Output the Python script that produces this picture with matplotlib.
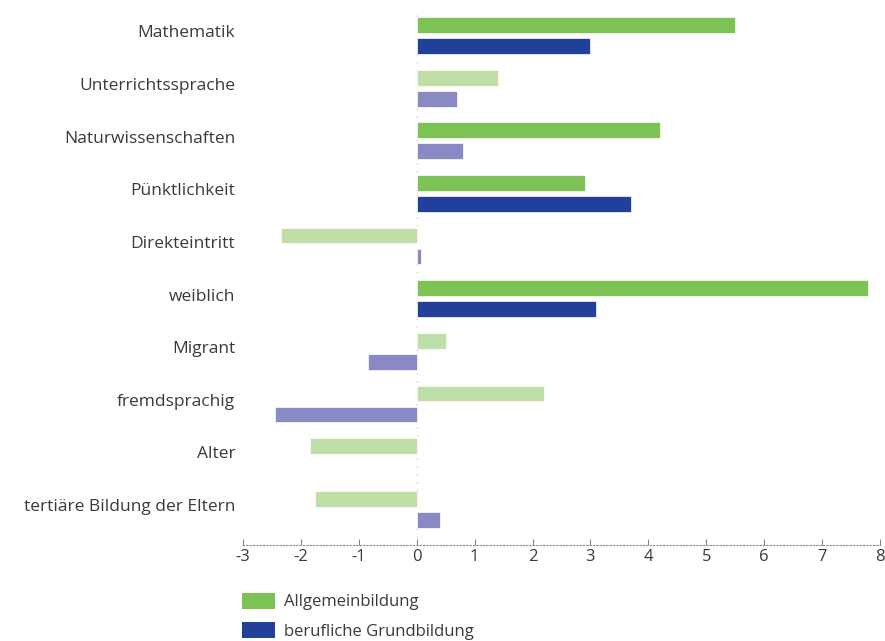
import matplotlib
matplotlib.use("Agg")
import matplotlib.pyplot as plt
import matplotlib.transforms as mtransforms
from matplotlib.patches import Patch

categories = ["Mathematik", "Unterrichtssprache", "Naturwissenschaften", "Pünktlichkeit",
              "Direkteintritt", "weiblich", "Migrant", "fremdsprachig", "Alter",
              "tertiäre Bildung der Eltern"]
allgemein = [5.5, 1.4, 4.2, 2.9, -2.35, 7.8, 0.5, 2.2, -1.85, -1.75]
beruflich = [3.0, 0.7, 0.8, 3.7, 0.08, 3.1, -0.85, -2.45, 0.0, 0.4]
allg_sig = [True, False, True, True, False, True, False, False, False, False]
beruf_sig = [True, False, False, True, False, True, False, False, False, False]
xticks = list(range(-3, 9))

GREEN = "#7cc254"
GREEN_L = "#c0dfa7"
BLUE = "#21409a"
BLUE_L = "#8989c4"
TXT = "#3a3a3a"

plt.rcParams['font.family'] = ['Open Sans', 'DejaVu Sans']

fig = plt.figure(figsize=(8.85, 6.41), dpi=100)
ax = fig.add_axes([243/885, 1-545/641, (880-243)/885, (545-9.2)/641])

y = list(range(len(categories)))
h = 0.30
off = 0.2
for i in y:
    ax.barh(i - off, allgemein[i], height=h, color=GREEN if allg_sig[i] else GREEN_L,
            edgecolor="white", linewidth=0.5)
    if beruflich[i] != 0:
        ax.barh(i + off, beruflich[i], height=h, color=BLUE if beruf_sig[i] else BLUE_L,
                edgecolor="white", linewidth=0.5)

ax.axvline(0, color="#bbbbbb", linestyle=(0, (1, 6)), linewidth=0.8, zorder=0)

ax.set_xlim(-3, 8)
ax.set_ylim(9.68, -0.5)
ax.set_yticks(y)
ax.set_yticklabels(categories, fontsize=12.5, color=TXT)
ax.set_xticks(xticks)
ax.set_xticklabels([str(t) for t in xticks], fontsize=12, color=TXT)
ax.tick_params(axis="y", length=0, pad=5.5)
ax.tick_params(axis="x", direction="in", length=4, width=0.8, color="#888888", pad=3)
shift = mtransforms.ScaledTranslation(0, 3/72, fig.dpi_scale_trans)
for lab in ax.get_yticklabels():
    lab.set_transform(lab.get_transform() + shift)
for s in ["top", "right", "left"]:
    ax.spines[s].set_visible(False)
ax.spines["bottom"].set_linestyle((0, (1, 2)))
ax.spines["bottom"].set_color("#888888")
ax.spines["bottom"].set_linewidth(0.8)

handles = [Patch(facecolor=GREEN, label="Allgemeinbildung"),
           Patch(facecolor=BLUE, label="berufliche Grundbildung")]
leg = fig.legend(handles=handles, loc="upper left", bbox_to_anchor=(235/885, 1-586/641),
                 frameon=False, fontsize=12, handlelength=2.0, handleheight=1.1,
                 labelspacing=0.7, handletextpad=0.55, borderaxespad=0)
for t in leg.get_texts():
    t.set_color(TXT)

fig.savefig("out.png", dpi=100, facecolor="white")
